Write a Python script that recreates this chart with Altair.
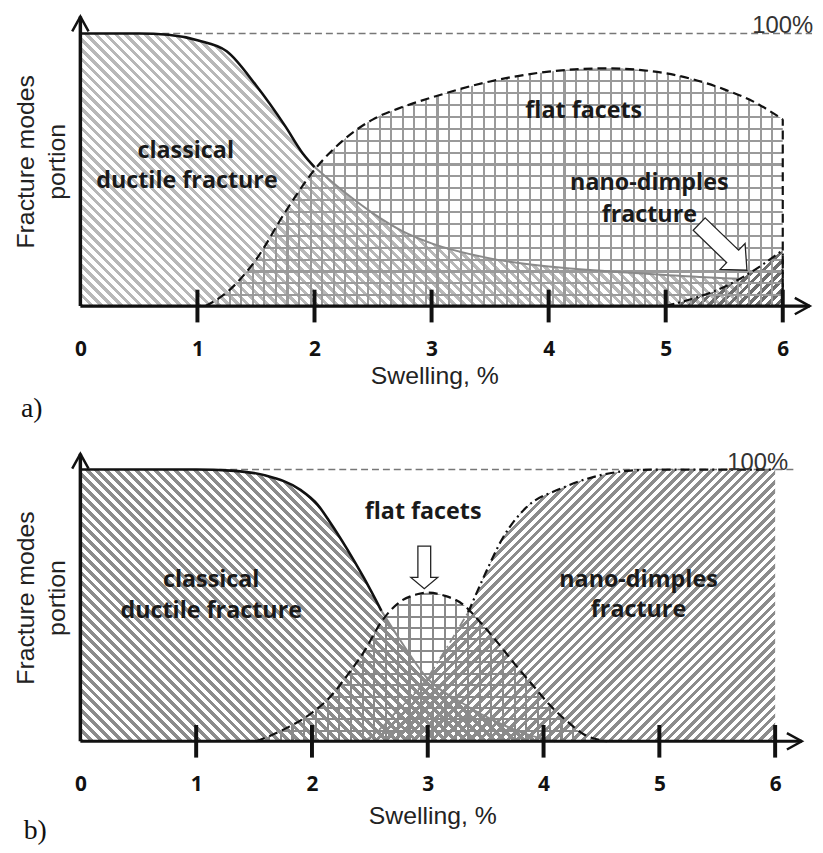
import math
import altair as alt
import pandas as pd

# ---------------- data ----------------
TICKS = [1, 2, 3, 4, 5, 6]
TICK_LABELS = [0, 1, 2, 3, 4, 5, 6]

# panel a
A_DUCT_X = [0, 0.5, 0.75, 1.0, 1.25, 1.5, 1.75, 1.9, 2.0, 2.25, 2.5, 2.75, 3.0, 3.5, 4.0, 4.5, 5.0, 5.5, 5.65]
A_DUCT_Y = [100, 100, 99.5, 97.5, 93.5, 81, 66, 56, 51, 42, 34, 27.5, 23, 17.5, 14.5, 12.8, 11.4, 10.2, 10]
A_FLAT_X = [1.07, 1.25, 1.5, 1.75, 2.0, 2.25, 2.5, 2.75, 3.0, 3.5, 4.0, 4.5, 5.0, 5.5, 5.75, 6.0]
A_FLAT_Y = [0, 5, 17, 34.5, 50, 61, 68.5, 73, 76.5, 82.4, 86, 87.2, 85.4, 79.5, 75, 68.5]
A_NANO_X = [5.0, 5.25, 5.5, 5.75, 6.0]
A_NANO_Y = [0, 3, 7, 13, 20.5]
A_DUCT_BLACK_UNTIL = 2.0

# panel b
B_DUCT_X = [0, 0.5, 1.0, 1.3, 1.6, 1.9, 2.05, 2.15, 2.3, 2.45, 2.6, 2.75, 3.0, 3.3, 3.6, 3.9, 4.1]
B_DUCT_Y = [100, 100, 100, 99.6, 97.8, 92.5, 87, 81, 71, 60, 48, 38, 23, 14, 7, 2, 0]
B_FLAT_X = [1.52, 1.72, 2.0, 2.15, 2.3, 2.45, 2.6, 2.75, 2.9, 3.0, 3.15, 3.3, 3.45, 3.6, 3.75, 3.9, 4.05, 4.2, 4.35, 4.55]
B_FLAT_Y = [0, 3.6, 10.5, 16, 24, 33, 44, 51, 54, 54.7, 53.5, 50.5, 44, 36.5, 28.5, 21, 13.5, 7.5, 2.5, 0]
B_NANO_X = [2.45, 2.6, 2.75, 3.0, 3.15, 3.35, 3.5, 3.65, 3.85, 4.15, 4.45, 4.75, 5.0, 6.0]
B_NANO_Y = [0, 5, 12, 23.5, 33.5, 47.5, 62, 75, 86, 93, 97.5, 99.6, 100, 100]
B_DUCT_BLACK_UNTIL = 2.6
B_NANO_BLACK_FROM = 3.35

# annotations (data units)
A_TEXT = ["classical", "ductile fracture", "flat facets", "nano-dimples", "fracture"]
A_TEXT_X = [0.90, 0.91, 4.30, 4.86, 4.86]
A_TEXT_Y = [54.5, 43.3, 69.1, 42.5, 30.9]
B_TEXT = ["classical", "ductile fracture", "flat facets", "nano-dimples", "fracture"]
B_TEXT_X = [1.13, 1.13, 2.96, 4.82, 4.82]
B_TEXT_Y = [56.6, 45.3, 81.8, 56.6, 45.6]
HUNDRED = "100%"
A_HUNDRED_X, B_HUNDRED_X = 6.0, 5.85
A_TAG, B_TAG = "a)", "b)"
A_TAG_XY = (-0.415, -40.7)
B_TAG_XY = (-0.39, -36.1)
A_ARROW_XY = (5.49, 21.6)
B_ARROW_XY = (2.97, 64.0)

FONT_B = "Open Sans"
FONT_N = "Liberation Sans"
CLEAR = "rgba(255,255,255,0)"

ARROW_PATH_A = "M-1,-0.26L0.4,-0.26L0.4,-0.54L1,0L0.4,0.54L0.4,0.26L-1,0.26Z"
ARROW_PATH_B = "M-1,-0.3L0.47,-0.3L0.47,-0.63L1,0L0.47,0.63L0.47,0.3L-1,0.3Z"
CHEVRON = "M-0.55,1L0,0L0.55,1"


def stripes(kind, w, h, period, frac, color):
    if kind == "back":
        k = (w + h) / (w * w + h * h)
        x1, y1, x2, y2 = 0, 1, w * k, 1 - h * k
        L = (w + h) / math.sqrt(2)
    elif kind == "fwd":
        k = (w + h) / (w * w + h * h)
        x1, y1, x2, y2 = 0, 0, w * k, h * k
        L = (w + h) / math.sqrt(2)
    elif kind == "v":
        x1, y1, x2, y2 = 0, 0, 1, 0
        L = w
    else:
        x1, y1, x2, y2 = 0, 0, 0, 1
        L = h
    n = max(1, round(L / period))
    stops = []
    for i in range(n):
        a, b, c = i / n, (i + frac) / n, (i + 1) / n
        stops += [(a, color), (b, color), (b, CLEAR), (c, CLEAR)]
    return alt.LinearGradient(
        gradient="linear",
        stops=[alt.GradientStop(offset=round(o, 6), color=col) for o, col in stops],
        x1=x1, y1=y1, x2=x2, y2=y2,
    )


def frame(xs, ys):
    return pd.DataFrame({"x": xs, "y": ys})


def panel(cfg):
    W, H, ymax = cfg["W"], cfg["H"], cfg["ymax"]
    pxu, pyu = W / 6.25, H / ymax
    X = alt.X("x:Q", scale=alt.Scale(domain=[0, 6.25], nice=False, zero=False),
              axis=alt.Axis(values=TICK_LABELS, format="d", labelFont=FONT_B, labelFontWeight="bold",
                            labelFontSize=21, labelColor="#111", labelPadding=33, labelFlush=False,
                            labelOverlap=False, ticks=False, tickSize=0, domain=False, grid=False,
                            title="Swelling, %", titleFont=FONT_N, titleFontSize=25, titleFontWeight="normal",
                            titleColor="#222", titleX=cfg["titleX"], titleY=cfg["titleY"],
                            titleBaseline="alphabetic", titleAlign="center"))
    Y = alt.Y("y:Q", scale=alt.Scale(domain=[0, ymax], nice=False, zero=False),
              axis=alt.Axis(labels=False, ticks=False, domain=False, grid=False,
                            title=["Fracture modes", "portion"], titleFont=FONT_N, titleFontSize=25,
                            titleFontWeight="normal", titleColor="#222", titleX=-47, titleY=H / 2,
                            titleAngle=270, titleAlign="center", titleBaseline="alphabetic",
                            titleLineHeight=31))

    def area(xs, ys, kind, period, frac, color):
        w = (max(xs) - min(xs)) * pxu
        h = max(ys) * pyu
        return alt.Chart(frame(xs, ys)).mark_area(
            fill=stripes(kind, w, h, period, frac, color), interpolate="monotone"
        ).encode(x=X, y=Y)

    def line(xs, ys, color, width, dash=None):
        kw = dict(color=color, strokeWidth=width, interpolate="monotone")
        if dash:
            kw["strokeDash"] = dash
        return alt.Chart(frame(xs, ys)).mark_line(**kw).encode(x=X, y=Y)

    def split(xs, ys, cut, before=True):
        pts = [(x, y) for x, y in zip(xs, ys) if (x <= cut if before else x >= cut)]
        return [p[0] for p in pts], [p[1] for p in pts]

    dx, dy = cfg["duct"]
    fx, fy = cfg["flat"]
    nx, ny = cfg["nano"]
    st = cfg["style"]
    layers = [
        area(dx, dy, "back", 7, st["duct_frac"], st["duct_col"]),
        area(nx, ny, "fwd", st["nano_period"], 0.48, st["nano_col"]),
        area(fx, fy, "v", 11.7, 0.18, st["grid_col"]),
        area(fx, fy, "h", 11.7, 0.18, st["grid_col"]),
    ]
    # 100% reference line
    layers.append(alt.Chart(pd.DataFrame({"x": [cfg["ref_from"]], "x2": [cfg["ref_to"]], "y": [100]}))
                  .mark_rule(color="#777", strokeWidth=1.4, strokeDash=[7, 4])
                  .encode(x=X, x2="x2:Q", y=Y))
    # curves
    bx, by = split(dx, dy, cfg["duct_black"], True)
    gx, gy = split(dx, dy, cfg["duct_black"], False)
    layers.append(line(gx, gy, "#8a8a8a", 2))
    layers.append(line(bx, by, "#111", 2.6))
    layers.append(line(fx, fy, "#111", 2.2, [9, 5]))
    if cfg.get("nano_black") is not None:
        gx2, gy2 = split(nx, ny, cfg["nano_black"], True)
        bx2, by2 = split(nx, ny, cfg["nano_black"], False)
        layers.append(line(gx2, gy2, "#8a8a8a", 1.8, [9, 4, 2, 4]))
        layers.append(line(bx2, by2, "#111", 2.2, [9, 4, 2, 4]))
    else:
        layers.append(line(nx, ny, "#111", 2.2, [9, 4, 2, 4]))
    # vertical edges at x = 6
    for val, dash in cfg["edges"]:
        layers.append(alt.Chart(pd.DataFrame({"x": [6.0], "y": [0], "y2": [val]}))
                      .mark_rule(color="#111", strokeWidth=2.2, strokeDash=dash)
                      .encode(x=X, y=Y, y2="y2:Q"))
    # axes lines, ticks, arrows
    layers.append(alt.Chart(pd.DataFrame({"x": [0], "y": [0], "y2": [ymax]}))
                  .mark_rule(color="#111", strokeWidth=3.5).encode(x=X, y=Y, y2="y2:Q"))
    layers.append(alt.Chart(pd.DataFrame({"x": [0], "x2": [6.23], "y": [0]}))
                  .mark_rule(color="#111", strokeWidth=3.2).encode(x=X, x2="x2:Q", y=Y))
    layers.append(alt.Chart(pd.DataFrame({"x": TICKS, "y": [-6] * len(TICKS), "y2": [6] * len(TICKS)}))
                  .mark_rule(color="#111", strokeWidth=4).encode(x=X, y=Y, y2="y2:Q"))
    layers.append(alt.Chart(pd.DataFrame({"x": [0], "y": [ymax]}))
                  .mark_point(shape=CHEVRON, size=900, filled=False, stroke="#111", strokeWidth=2.5, opacity=1)
                  .encode(x=X, y=Y))
    layers.append(alt.Chart(pd.DataFrame({"x": [6.23], "y": [0]}))
                  .mark_point(shape=CHEVRON, size=900, angle=90, filled=False, stroke="#111", strokeWidth=2.5,
                              opacity=1)
                  .encode(x=X, y=Y))
    # hollow annotation arrow
    ax, ay = cfg["arrow_xy"]
    layers.append(alt.Chart(pd.DataFrame({"x": [ax], "y": [ay]}))
                  .mark_point(shape=cfg["arrow_path"], size=cfg["arrow_size"], angle=cfg["arrow_angle"],
                              filled=True, fill="white", stroke="#222", strokeWidth=1.3, opacity=1)
                  .encode(x=X, y=Y))
    # texts
    tx, ty, tt = cfg["text"]
    layers.append(alt.Chart(pd.DataFrame({"x": tx, "y": ty, "t": tt}))
                  .mark_text(font=FONT_B, fontWeight="bold", fontSize=23.5, color="#1a1a1a",
                             align="center", baseline="alphabetic")
                  .encode(x=X, y=Y, text="t:N"))
    layers.append(alt.Chart(pd.DataFrame({"x": [cfg["hundred_x"]], "y": [100], "t": [HUNDRED]}))
                  .mark_text(font=FONT_N, fontSize=24, color="#333", align="center", baseline="alphabetic")
                  .encode(x=X, y=Y, text="t:N"))
    tgx, tgy = cfg["tag_xy"]
    layers.append(alt.Chart(pd.DataFrame({"x": [tgx], "y": [tgy], "t": [cfg["tag"]]}))
                  .mark_text(font="Liberation Serif", fontSize=28, color="#111", align="center",
                             baseline="alphabetic")
                  .encode(x=X, y=Y, text="t:N"))
    return alt.layer(*layers).properties(width=W, height=H)


panel_a = panel(dict(
    W=738, H=292, ymax=106.2, titleX=357, titleY=78,
    duct=(A_DUCT_X, A_DUCT_Y), flat=(A_FLAT_X, A_FLAT_Y), nano=(A_NANO_X, A_NANO_Y),
    style=dict(duct_col="#b8b8b8", duct_frac=0.45, nano_col="#6e6e6e", nano_period=7, grid_col="#9a9a9a"),
    ref_from=0.7, ref_to=6.25, duct_black=A_DUCT_BLACK_UNTIL, nano_black=None,
    edges=[(A_FLAT_Y[-1], [9, 5]), (A_NANO_Y[-1], [9, 4, 2, 4])],
    arrow_xy=A_ARROW_XY, arrow_path=ARROW_PATH_A, arrow_size=4489, arrow_angle=44,
    text=(A_TEXT_X, A_TEXT_Y, A_TEXT), hundred_x=A_HUNDRED_X, tag=A_TAG, tag_xy=A_TAG_XY,
))

panel_b = panel(dict(
    W=730, H=290, ymax=105.8, titleX=355, titleY=83,
    duct=(B_DUCT_X, B_DUCT_Y), flat=(B_FLAT_X, B_FLAT_Y), nano=(B_NANO_X, B_NANO_Y),
    style=dict(duct_col="#8c8c8c", duct_frac=0.5, nano_col="#8c8c8c", nano_period=6.7, grid_col="#8a8a8a"),
    ref_from=1.2, ref_to=6.17, duct_black=B_DUCT_BLACK_UNTIL, nano_black=B_NANO_BLACK_FROM,
    edges=[],
    arrow_xy=B_ARROW_XY, arrow_path=ARROW_PATH_B, arrow_size=1849, arrow_angle=90,
    text=(B_TEXT_X, B_TEXT_Y, B_TEXT), hundred_x=B_HUNDRED_X, tag=B_TAG, tag_xy=B_TAG_XY,
))

chart = alt.vconcat(panel_a, panel_b, spacing=26).properties(
    padding={"left": 5, "top": 0, "right": 0, "bottom": 0}
).configure_view(stroke=None)

chart.save("out.html", embed_options={"renderer": "svg", "actions": False})
